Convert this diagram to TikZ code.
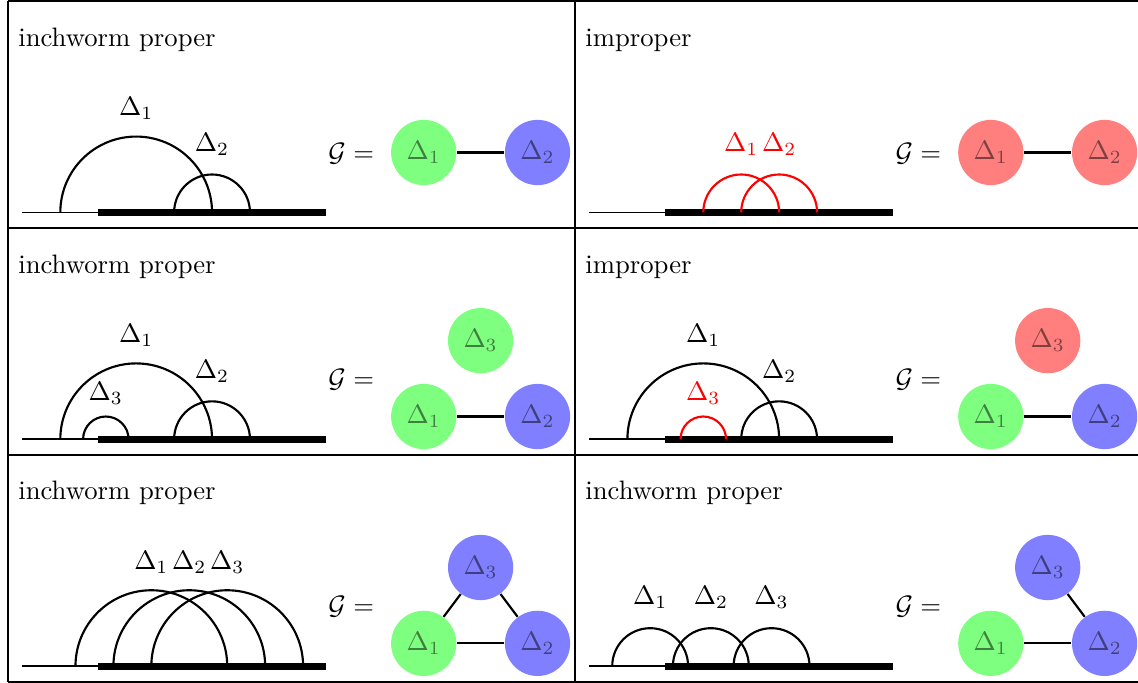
\documentclass[tikz,border=0pt]{standalone}
\usepackage{amsmath,amssymb}
\usepackage{tikz}
\usetikzlibrary{positioning,calc}

\begin{document}
\begin{tikzpicture}[
    vtx/.style={circle, minimum size=0.86cm, inner sep=0pt, opacity=0.5},
    link/.style={thick},
    arcline/.style={thick},
    timeline/.style={line width=2.7pt},
    lead/.style={semithick},
    frame/.style={thick},
    paneltitle/.style={anchor=base west, inner sep=0pt},
]
    \useasboundingbox (0,0) rectangle (15,-9);
    % Table rules
    \foreach \y in {0.017,3.007,5.997,8.987}
        \draw[frame] (0.105,-\y) -- (15,-\y);
    \foreach \x in {0.105,7.58}
        \draw[frame] (\x,-0.017) -- (\x,-8.987);

    % Row 1, left: inchworm proper
    \begin{scope}[shift={(0.795,-2.80)}]
        \node[paneltitle] (tA) at (-0.56,2.19) {inchworm proper};
        \draw[lead] (-0.5,0) -- (0.5,0);
        \draw[timeline] (0.5,0) -- (3.5,0);
        \draw[arcline] (0,0) arc[start angle=180, end angle=0, radius=1];
        \draw[arcline] (1.5,0) arc[start angle=180, end angle=0, radius=0.5];
        \node (lA1) at (1,1.37) {$\Delta_1$};
        \node (lA2) at (2,0.9) {$\Delta_2$};
        \node (eqA) at (3.835,0.78) {$\mathcal{G} =$};
        \node[vtx, fill=green] (gA1) at (4.79,0.79) {$\Delta_1$};
        \node[vtx, fill=blue]  (gA2) at (6.29,0.79) {$\Delta_2$};
        \draw[link] (gA1) -- (gA2);
    \end{scope}

    % Row 1, right: improper
    \begin{scope}[shift={(8.27,-2.80)}]
        \node[paneltitle] (tB) at (-0.56,2.19) {improper};
        \draw[lead] (-0.5,0) -- (0.5,0);
        \draw[timeline] (0.5,0) -- (3.5,0);
        \draw[arcline, red] (1,0) arc[start angle=180, end angle=0, radius=0.5];
        \draw[arcline, red] (1.5,0) arc[start angle=180, end angle=0, radius=0.5];
        \node[red] (lB1) at (1.5,0.9) {$\Delta_1$};
        \node[red] (lB2) at (2,0.9) {$\Delta_2$};
        \node (eqB) at (3.835,0.78) {$\mathcal{G} =$};
        \node[vtx, fill=red] (gB1) at (4.79,0.79) {$\Delta_1$};
        \node[vtx, fill=red] (gB2) at (6.29,0.79) {$\Delta_2$};
        \draw[link] (gB1) -- (gB2);
    \end{scope}

    % Row 2, left: inchworm proper
    \begin{scope}[shift={(0.795,-5.79)}]
        \node[paneltitle] (tC) at (-0.56,2.19) {inchworm proper};
        \draw[lead] (-0.5,0) -- (0.5,0);
        \draw[timeline] (0.5,0) -- (3.5,0);
        \draw[arcline] (0,0) arc[start angle=180, end angle=0, radius=1];
        \draw[arcline] (0.3,0) arc[start angle=180, end angle=0, radius=0.3];
        \draw[arcline] (1.5,0) arc[start angle=180, end angle=0, radius=0.5];
        \node (lC1) at (1,1.37) {$\Delta_1$};
        \node (lC2) at (2,0.9) {$\Delta_2$};
        \node (lC3) at (0.6,0.61) {$\Delta_3$};
        \node (eqC) at (3.835,0.78) {$\mathcal{G} =$};
        \node[vtx, fill=green] (gC3) at (5.54,1.30) {$\Delta_3$};
        \node[vtx, fill=green] (gC1) at (4.79,0.30) {$\Delta_1$};
        \node[vtx, fill=blue]  (gC2) at (6.29,0.30) {$\Delta_2$};
        \draw[link] (gC1) -- (gC2);
    \end{scope}

    % Row 2, right: improper
    \begin{scope}[shift={(8.27,-5.79)}]
        \node[paneltitle] (tD) at (-0.56,2.19) {improper};
        \draw[lead] (-0.5,0) -- (0.5,0);
        \draw[timeline] (0.5,0) -- (3.5,0);
        \draw[arcline] (0,0) arc[start angle=180, end angle=0, radius=1];
        \draw[arcline, red] (0.7,0) arc[start angle=180, end angle=0, radius=0.3];
        \draw[arcline] (1.5,0) arc[start angle=180, end angle=0, radius=0.5];
        \node (lD1) at (1,1.37) {$\Delta_1$};
        \node (lD2) at (2,0.9) {$\Delta_2$};
        \node[red] (lD3) at (1,0.61) {$\Delta_3$};
        \node (eqD) at (3.835,0.78) {$\mathcal{G} =$};
        \node[vtx, fill=red]   (gD3) at (5.54,1.30) {$\Delta_3$};
        \node[vtx, fill=green] (gD1) at (4.79,0.30) {$\Delta_1$};
        \node[vtx, fill=blue]  (gD2) at (6.29,0.30) {$\Delta_2$};
        \draw[link] (gD1) -- (gD2);
    \end{scope}

    % Row 3, left: inchworm proper, all crossing
    \begin{scope}[shift={(0.795,-8.78)}]
        \node[paneltitle] (tE) at (-0.56,2.19) {inchworm proper};
        \draw[lead] (-0.5,0) -- (0.5,0);
        \draw[timeline] (0.5,0) -- (3.5,0);
        \foreach \s/\i in {0.2/1,0.7/2,1.2/3}{
            \draw[arcline] (\s,0) arc[start angle=180, end angle=0, radius=1];
            \node (lE\i) at (\s+1,1.37) {$\Delta_{\i}$};
        }
        \node (eqE) at (3.835,0.78) {$\mathcal{G} =$};
        \node[vtx, fill=blue]  (gE3) at (5.54,1.30) {$\Delta_3$};
        \node[vtx, fill=green] (gE1) at (4.79,0.30) {$\Delta_1$};
        \node[vtx, fill=blue]  (gE2) at (6.29,0.30) {$\Delta_2$};
        \draw[link] (gE1) -- (gE2);
        \draw[link] (gE1) -- (gE3);
        \draw[link] (gE2) -- (gE3);
    \end{scope}

    % Row 3, right: inchworm proper, chain
    \begin{scope}[shift={(8.27,-8.78)}]
        \node[paneltitle] (tF) at (-0.56,2.19) {inchworm proper};
        \draw[lead] (-0.5,0) -- (0.5,0);
        \draw[timeline] (0.5,0) -- (3.5,0);
        \foreach \s/\i in {-0.2/1,0.6/2,1.4/3}{
            \draw[arcline] (\s,0) arc[start angle=180, end angle=0, radius=0.5];
            \node (lF\i) at (\s+0.5,0.9) {$\Delta_{\i}$};
        }
        \node (eqF) at (3.835,0.78) {$\mathcal{G} =$};
        \node[vtx, fill=blue]  (gF3) at (5.54,1.30) {$\Delta_3$};
        \node[vtx, fill=green] (gF1) at (4.79,0.30) {$\Delta_1$};
        \node[vtx, fill=blue]  (gF2) at (6.29,0.30) {$\Delta_2$};
        \draw[link] (gF1) -- (gF2);
        \draw[link] (gF2) -- (gF3);
    \end{scope}
\end{tikzpicture}
\end{document}
